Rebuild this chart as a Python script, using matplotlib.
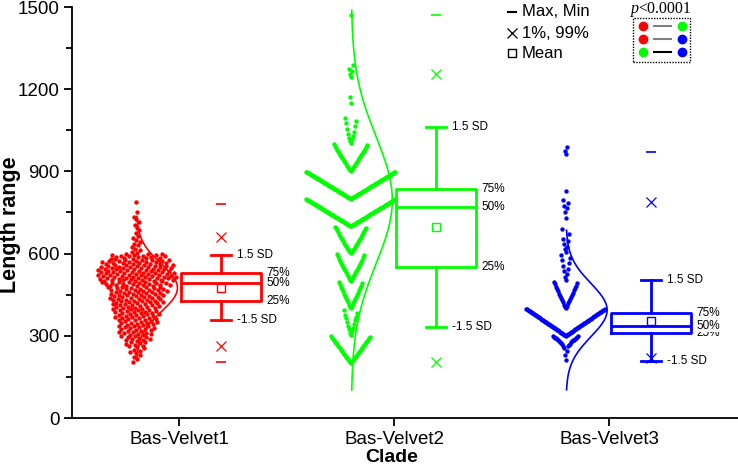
import numpy as np
import matplotlib
matplotlib.use("Agg")
import matplotlib.pyplot as plt
from matplotlib.lines import Line2D
from matplotlib.patches import Rectangle

plt.rcParams['font.family'] = ['Liberation Sans', 'DejaVu Sans']

# ---------------- data ----------------
clades = ['Bas-Velvet1', 'Bas-Velvet2', 'Bas-Velvet3']
colors = ['#FF0000', '#00FF00', '#0000FF']

q1 = [427, 552, 309]
median = [492, 771, 337]
q3 = [528, 836, 382]
mean = [476, 698, 355]
sd_low = [358, 333, 209]       # mean - 1.5 SD
sd_high = [595, 1063, 504]     # mean + 1.5 SD
pct01 = [263, 204, 219]
pct99 = [660, 1255, 788]
v_min = [205, np.nan, 205]
v_max = [781, 1471, 971]

# fitted distribution curves (centre, sigma)
curve_mu = [475, 795, 394]
curve_sigma = [87, 231, 97]

# histogram of raw points: lower edge of 20-wide bins and counts
red_bins = [200, 220, 240, 260, 280, 300, 320, 340, 360, 380, 400, 420, 440, 460,
            480, 500, 520, 540, 560, 580, 600, 620, 640, 660, 680, 700, 720, 740, 760, 780]
red_counts = [2, 3, 5, 7, 9, 11, 12, 13, 14, 15, 16, 17, 18, 19,
              22, 25, 25, 24, 22, 18, 4, 3, 3, 2, 2, 2, 2, 1, 0, 1]

green_bins = list(range(200, 1500, 20))
green_counts = [8, 8, 8, 8, 8,        # 200-300
                3, 3, 3, 3, 2,        # 300-400
                5, 5, 5, 5, 4,        # 400-500
                6, 6, 6, 5, 5,        # 500-600
                7, 7, 6, 6, 6,        # 600-700
                18, 18, 18, 18, 18,   # 700-800
                18, 18, 18, 18, 18,   # 800-900
                7, 7, 7, 7, 6,        # 900-1000
                3, 3, 2, 2, 2,        # 1000-1100
                0, 0, 1, 1, 0,        # 1100-1200
                0, 0, 2, 2, 1,        # 1200-1300
                0, 0, 0, 0, 0,        # 1300-1400
                0, 0, 0, 1, 0,        # 1400-1500
                ]

blue_bins = list(range(200, 1000, 20))
blue_counts = [1, 1, 2, 8, 14,        # 200-300
               16, 16, 16, 16, 16,    # 300-400
               5, 5, 5, 5, 4,         # 400-500
               2, 2, 2, 2, 2,         # 500-600
               2, 2, 2, 1, 1,         # 600-700
               0, 1, 1, 2, 2,         # 700-800
               0, 1, 0, 0, 0,         # 800-900
               0, 0, 0, 2, 1,         # 900-1000
               ]

# ---------------- layout ----------------
W, H = 738, 473
fig = plt.figure(figsize=(W / 100, H / 100), dpi=100)
ax = fig.add_axes([72 / W, 1 - 418 / H, 666 / W, 411 / H])
ax.set_xlim(0.5, 3.6)
ax.set_ylim(0, 1500)
UNIT_PX = 666 / 3.1          # pixels per x unit
PX = 1 / UNIT_PX

scatter_off = -0.20
box_off = 0.195
box_w = 0.372
cap_w = 0.093
bin_w = 20


def bin_values(bins, counts):
    vals = []
    for lo, c in zip(bins, counts):
        for i in range(c):
            vals.append(lo + (i + 0.5) * bin_w / c)
    return np.array(vals)


def chevron_offsets(values, group=100, spacing=1.0 * PX):
    offs = np.zeros_like(values)
    groups = np.floor(values / group)
    for g in np.unique(groups):
        idx = np.where(groups == g)[0]
        idx = idx[np.argsort(values[idx])]
        for r, j in enumerate(idx):
            k = (r + 1) // 2
            offs[j] = (-1 if r % 2 else 1) * k * spacing
    return offs


def jitter_offsets(bins, counts, scale=1.6 * PX):
    offs = []
    k = 0
    for lo, c in zip(bins, counts):
        hw = min(c * scale, 42 * PX)
        for i in range(c):
            u = (k * 0.6180339887) % 1.0
            offs.append((2 * u - 1) * hw)
            k += 1
    return np.array(offs)


point_sets = [
    (bin_values(red_bins, red_counts), jitter_offsets(red_bins, red_counts)),
]
gv = bin_values(green_bins, green_counts)
point_sets.append((gv, chevron_offsets(gv)))
bv = bin_values(blue_bins, blue_counts)
point_sets.append((bv, chevron_offsets(bv)))

for i, (vals, offs) in enumerate(point_sets):
    cx = i + 1 + scatter_off
    ax.scatter(cx + offs, vals, s=10, color=colors[i], lw=0, zorder=3)

# distribution curves
for i in range(3):
    cx = i + 1 + scatter_off
    y = np.linspace(curve_mu[i] - 3 * curve_sigma[i], curve_mu[i] + 3 * curve_sigma[i], 300)
    pdf = np.exp(-0.5 * ((y - curve_mu[i]) / curve_sigma[i]) ** 2)
    ax.plot(cx + pdf * 41 * PX, y, color=colors[i], lw=1.2, zorder=4)

# boxes
for i in range(3):
    c = colors[i]
    pos = i + 1 + box_off
    stats = [dict(med=median[i], q1=q1[i], q3=q3[i], whislo=sd_low[i],
                  whishi=sd_high[i], mean=mean[i], fliers=[])]
    ax.bxp(stats, positions=[pos], widths=box_w, capwidths=cap_w, showmeans=True,
           showfliers=False, manage_ticks=False,
           boxprops=dict(color=c, lw=2), whiskerprops=dict(color=c, lw=2),
           capprops=dict(color=c, lw=2), medianprops=dict(color=c, lw=2),
           meanprops=dict(marker='s', markerfacecolor='none', markeredgecolor=c,
                          markersize=6, markeredgewidth=1))
    ax.plot([pos, pos], [pct01[i], pct99[i]], ls='none', marker='x', ms=7.5,
            mew=0.9, color=c, zorder=5)
    ax.plot([pos, pos], [v_min[i], v_max[i]], ls='none', marker='_', ms=7,
            mew=1.2, color=c, zorder=5)
    tk = dict(fontsize=8.5, va='center', ha='left', textcoords='offset points')
    ax.annotate('1.5 SD', xy=(pos + cap_w / 2, sd_high[i]), xytext=(4, 0), **tk)
    ax.annotate('-1.5 SD', xy=(pos + cap_w / 2, sd_low[i]), xytext=(4, 0), **tk)
    bb = dict(facecolor='white', edgecolor='none', pad=0.2)
    ax.annotate('25%', xy=(pos + box_w / 2, q1[i]), xytext=(4, 0), **tk)
    ax.annotate('75%', xy=(pos + box_w / 2, q3[i]), xytext=(4, 0), **tk)
    ax.annotate('50%', xy=(pos + box_w / 2, median[i]), xytext=(4, 0), bbox=bb, **tk)

# axes styling
for s in ['top', 'right']:
    ax.spines[s].set_visible(False)
for s in ['left', 'bottom']:
    ax.spines[s].set_linewidth(1.3)
ax.set_xticks([1, 2, 3])
ax.set_xticklabels(clades)
ax.set_yticks(np.arange(0, 1501, 300))
ax.set_yticks(np.arange(0, 1501, 150), minor=True)
ax.tick_params(axis='both', which='major', direction='out', length=6, width=1.3,
               labelsize=13.5, pad=3)
ax.tick_params(axis='y', which='minor', direction='out', length=4, width=1.3)
ax.set_xlabel('Clade', fontsize=14, fontweight='bold')
ax.set_ylabel('Length range', fontsize=15.5, fontweight='bold')
ax.xaxis.set_label_coords(0.48, -0.075)
ax.yaxis.set_label_coords(-0.077, 0.47)


def fp(x, y):
    return (x / W, 1 - y / H)


# top legend
leg_rows = [(12, '_', 'Max, Min'), (33, 'x', '1%, 99%'), (53, 's', 'Mean')]
for y, m, label in leg_rows:
    kw = dict(markerfacecolor='none') if m == 's' else {}
    ms = {'_': 7.5, 'x': 6.5, 's': 6}[m]
    mew = {'_': 1.5, 'x': 0.9, 's': 1}[m]
    fig.add_artist(Line2D([fp(512, y)[0]], [fp(512, y)[1]], marker=m, ms=ms, mew=mew,
                          color='black', ls='none', transform=fig.transFigure, **kw))
    fig.text(*fp(522, y), label, fontsize=12, va='center', ha='left')

# significance box
fig.text(*fp(638.5, 9), 'p', family='Liberation Serif', style='italic', fontsize=11.5,
         ha='right', va='center')
fig.text(*fp(638.5, 9), '<0.0001', family='Liberation Serif', fontsize=11.5,
         ha='left', va='center')
x0, y0 = fp(633, 62)
x1, y1 = fp(690, 18)
fig.add_artist(Rectangle((x0, y0), x1 - x0, y1 - y0, transform=fig.transFigure,
                         fill=False, ec='black', lw=1, ls=(0, (1, 1))))
pairs = [(0, 1, '#808080', 26), (0, 2, '#808080', 39), (1, 2, 'black', 52)]
for a, b, lc, y in pairs:
    fig.add_artist(Line2D([fp(654, y)[0], fp(671, y)[0]], [fp(0, y)[1]] * 2,
                          color=lc, lw=1.5, transform=fig.transFigure))
    for xx, ci in [(643, a), (682, b)]:
        fig.add_artist(Line2D([fp(xx, y)[0]], [fp(xx, y)[1]], marker='o', ms=6,
                              color=colors[ci], ls='none', transform=fig.transFigure))

fig.savefig('out.png', dpi=100)
